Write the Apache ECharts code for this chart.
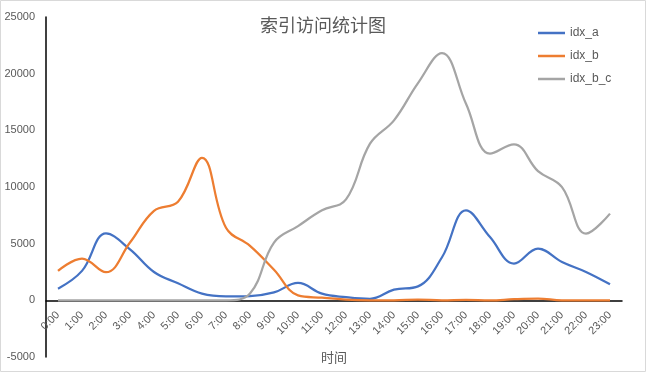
<!DOCTYPE html>
<html>
<head>
<meta charset="utf-8">
<script src="https://cdn.jsdelivr.net/npm/echarts@6/dist/echarts.min.js"></script>
<style>
html,body{margin:0;padding:0;background:#fff;}
#chart{width:646px;height:372px;}
</style>
</head>
<body>
<div id="chart"></div>
<script>
var titleText = '索引访问统计图';
var axisName = '时间';
var categories = ['0:00','1:00','2:00','3:00','4:00','5:00','6:00','7:00','8:00','9:00','10:00','11:00','12:00','13:00','14:00','15:00','16:00','17:00','18:00','19:00','20:00','21:00','22:00','23:00'];
var seriesNames = ['idx_a','idx_b','idx_b_c'];
var idxA = [1030, 2600, 5900, 4500, 2500, 1500, 590, 350, 380, 700, 1530, 590, 280, 130, 940, 1230, 3800, 7940, 5580, 3240, 4560, 3380, 2500, 1410];
var idxB = [2590, 3680, 2480, 5100, 7900, 8700, 12580, 6400, 4800, 2700, 440, 230, 60, 0, 0, 60, 0, 30, 0, 100, 150, 0, 0, 0];
var idxBC = [0, 0, 0, 0, 0, 0, 0, 0, 600, 5100, 6550, 7940, 8900, 13820, 15880, 19170, 21820, 17350, 12940, 13760, 11400, 9990, 5880, 7650];
var yMin = -5000, yMax = 25000, yStep = 5000;

var chart = echarts.init(document.getElementById('chart'), null, {renderer: 'canvas'});
var txt = '#595959';
var font = 'Liberation Sans, Arial, sans-serif';
var gridTop = 17, gridBottom = 15, H = 372;
var zeroOffset = -(H - gridTop - gridBottom) * (0 - yMin) / (yMax - yMin);
function mk(name, data, color) {
  return {
    name: name, type: 'line', data: data, smooth: 0.4, symbol: 'none',
    lineStyle: {color: color, width: 2.25}, itemStyle: {color: color}
  };
}
chart.setOption({
  animation: false,
  textStyle: {fontFamily: font},
  graphic: [{type: 'rect', shape: {x: 0.5, y: 0.5, width: 645, height: 371}, style: {fill: 'none', stroke: '#d9d9d9', lineWidth: 1}, silent: true}],
  title: {text: titleText, left: 'center', top: 11, textStyle: {fontSize: 18, fontWeight: 'normal', color: txt, fontFamily: 'Noto Sans CJK SC'}},
  legend: {
    orient: 'vertical', left: 533, top: 21, itemWidth: 27, itemHeight: 2.5, itemGap: 9, icon: 'rect',
    textStyle: {color: txt, fontSize: 12, lineHeight: 14, fontFamily: font},
    data: seriesNames
  },
  grid: {left: 46, right: 24, top: gridTop, bottom: gridBottom, containLabel: false, outerBoundsMode: 'none'},
  xAxis: {
    type: 'category', data: categories, boundaryGap: true, offset: zeroOffset,
    axisLine: {onZero: false, lineStyle: {color: '#000', width: 1.5}},
    axisTick: {show: false},
    axisLabel: {rotate: 45, color: txt, fontSize: 11, margin: 13, interval: 0, fontFamily: font},
    name: axisName, nameLocation: 'middle', nameGap: 50,
    nameTextStyle: {color: txt, fontSize: 13, fontFamily: 'Noto Sans CJK SC'}
  },
  yAxis: {
    type: 'value', min: yMin, max: yMax, interval: yStep,
    axisLine: {show: true, lineStyle: {color: '#000', width: 1.5}},
    axisTick: {show: false}, splitLine: {show: false},
    axisLabel: {color: txt, fontSize: 11, margin: 11, fontFamily: font, formatter: function (v) { return String(v); }}
  },
  series: [mk(seriesNames[0], idxA, '#4472C4'), mk(seriesNames[1], idxB, '#ED7D31'), mk(seriesNames[2], idxBC, '#A5A5A5')]
});
</script>
</body>
</html>
